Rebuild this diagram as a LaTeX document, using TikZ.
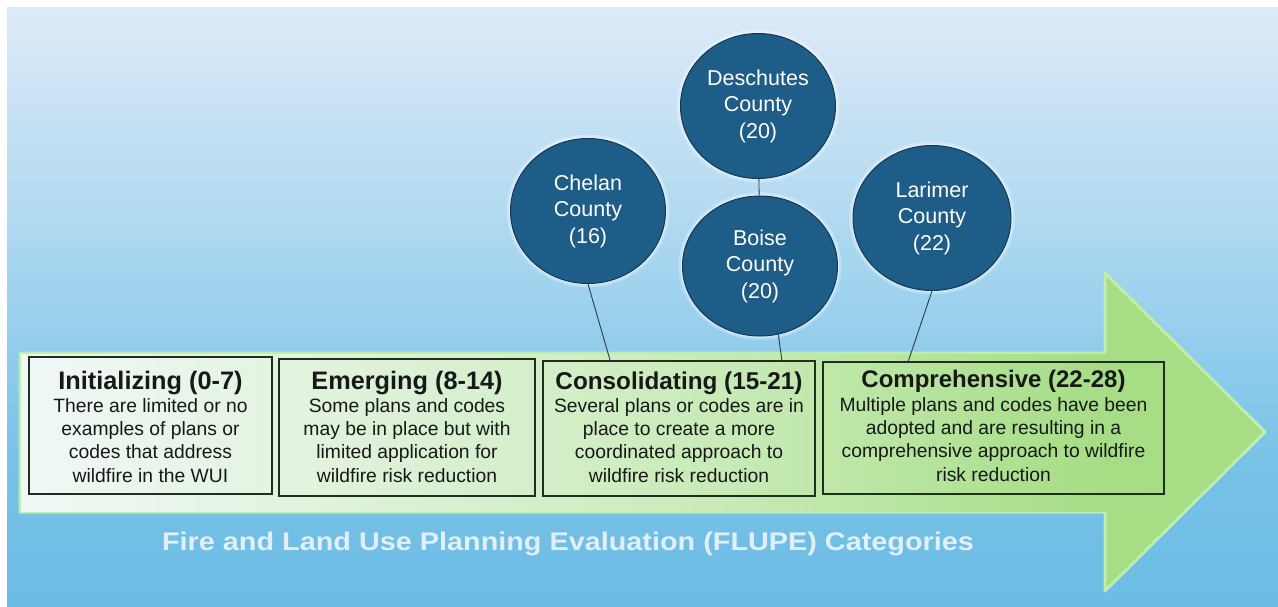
\documentclass[tikz,border=0pt]{standalone}
\usepackage{fontspec}
\setmainfont{Liberation Sans}
\usetikzlibrary{shapes.geometric}

% palette
\definecolor{skytop}{RGB}{221,234,247}
\definecolor{skymid}{RGB}{178,218,241}
\definecolor{skylow}{RGB}{120,194,231}
\definecolor{skybot}{RGB}{108,188,229}
\definecolor{shaftA}{RGB}{240,248,246}
\definecolor{shaftB}{RGB}{224,242,219}
\definecolor{shaftC}{RGB}{200,235,184}
\definecolor{headgreen}{RGB}{166,221,133}
\definecolor{headrim}{RGB}{192,236,172}
\definecolor{countyblue}{RGB}{29,93,135}
\definecolor{countyrim}{RGB}{18,58,88}
\definecolor{stageedge}{RGB}{28,48,28}
\definecolor{stageink}{RGB}{24,24,24}
\definecolor{linkink}{RGB}{40,60,80}
\definecolor{captionink}{RGB}{236,244,250}

% sky background and arrow shaft shadings (path spans 25bp..75bp)
\pgfdeclareverticalshading{skyfade}{100bp}{%
  color(0bp)=(skybot); color(25bp)=(skybot); color(37bp)=(skylow);
  color(58bp)=(skymid); color(75bp)=(skytop); color(100bp)=(skytop)}
\pgfdeclarehorizontalshading{shaftfade}{100bp}{%
  color(0bp)=(shaftA); color(25bp)=(shaftA); color(40bp)=(shaftB);
  color(57bp)=(shaftC); color(75bp)=(headgreen); color(100bp)=(headgreen)}

\tikzset{
  county/.style={ellipse, minimum width=155pt, minimum height=145pt, inner sep=0pt,
    fill=countyblue, draw=countyrim, line width=1pt,
    preaction={draw=white, draw opacity=0.25, line width=8pt},
    preaction={draw=white, draw opacity=0.35, line width=4pt},
    text=white, align=center, font=\fontsize{21.5}{26.5}\selectfont},
  stagebox/.style={rectangle, draw=stageedge, line width=1.6pt, inner sep=0pt},
  stagetitle/.style={anchor=base, inner sep=0pt, text=stageink,
    font=\bfseries\fontsize{24.8}{28}\selectfont},
  stagebody/.style={anchor=north, inner sep=0pt, align=center, text=stageink,
    font=\fontsize{19.3}{23.3}\selectfont},
  link/.style={draw=linkink, line width=0.9pt},
  caption/.style={anchor=base, inner sep=0pt, text=captionink, text opacity=0.92,
    font=\bfseries\fontsize{25.5}{28}\selectfont}
}

\begin{document}
\begin{tikzpicture}[x=1pt, y=-1pt]
\useasboundingbox (0,0) rectangle (1278,606);
\fill[white] (0,0) rectangle (1278,606);

% sky panel
\fill[shading=skyfade] (7,7) rectangle (1278,606);

% arrow: outline and head, then shaded shaft
\filldraw[fill=headgreen, draw=headrim, line width=3pt, line join=round]
  (20,353) -- (1105,353) -- (1105,273) -- (1265,432) -- (1105,591)
  -- (1105,512) -- (20,512) -- cycle;
\fill[shading=shaftfade] (21,354) rectangle (1106,511);

% stage boxes
\node[stagebox, minimum width=243pt, minimum height=137pt] (b1) at (150.5,425.5) {};
\node[stagebox, minimum width=256pt, minimum height=137pt] (b2) at (407,427.5) {};
\node[stagebox, minimum width=272pt, minimum height=135pt] (b3) at (679,428.5) {};
\node[stagebox, minimum width=341pt, minimum height=132pt] (b4) at (993.5,428) {};

\node[stagetitle, font=\bfseries\fontsize{25.3}{28}\selectfont] (t1) at (150.5,389) {Initializing (0-7)};
\node[stagebody] (d1) at (150.5,398) {There are limited or no\\examples of plans or\\codes that address\\wildfire in the WUI};

\node[stagetitle, font=\bfseries\fontsize{25.3}{28}\selectfont] (t2) at (407,389) {Emerging (8-14)};
\node[stagebody] (d2) at (407,398) {Some plans and codes\\may be in place but with\\limited application for\\wildfire risk reduction};

\node[stagetitle, font=\bfseries\fontsize{24.3}{28}\selectfont] (t3) at (679,389) {Consolidating (15-21)};
\node[stagebody] (d3) at (679,398) {Several plans or codes are in\\place to create a more\\coordinated approach to\\wildfire risk reduction};

\node[stagetitle, font=\bfseries\fontsize{24}{28}\selectfont] (t4) at (993.5,387) {Comprehensive (22-28)};
\node[stagebody] (d4) at (993.5,397) {Multiple plans and codes have been\\adopted and are resulting in a\\comprehensive approach to wildfire\\risk reduction};

% county bubbles
\node[county] (chelan) at (588,211) {Chelan\\County\\(16)};
\node[county] (deschutes) at (758,106) {Deschutes\\County\\(20)};
\node[county, minimum height=140pt] (boise) at (760,266) {Boise\\County\\(20)};
\node[county, minimum width=158pt] (larimer) at (932,218) {Larimer\\County\\(22)};

% leader lines to the stage boxes
\coordinate (p1) at (610,360);
\coordinate (p2) at (782,361);
\coordinate (p3) at (908,362);
\draw[link] (chelan.south) -- (p1);
\draw[link] (deschutes) -- (boise);
\draw[link] (boise.-75) -- (p2);
\draw[link] (larimer.south) -- (p3);

% caption
\node[caption] (cap) at (568,550) {\scalebox{1.13}[1]{Fire and Land Use Planning Evaluation (FLUPE) Categories}};
\end{tikzpicture}
\end{document}
